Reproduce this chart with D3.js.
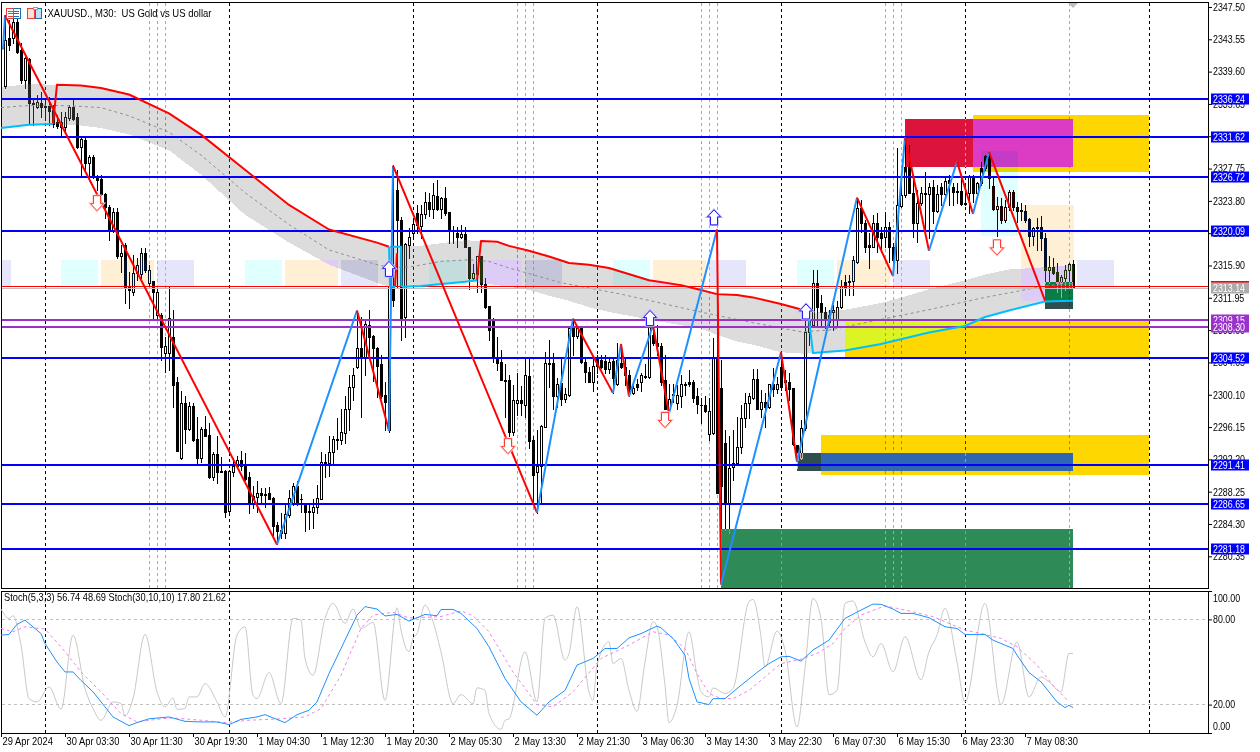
<!DOCTYPE html>
<html><head><meta charset="utf-8">
<script src="https://cdn.jsdelivr.net/npm/d3@7"></script>
<style>
html,body{margin:0;padding:0;background:#fff;width:1260px;height:752px;overflow:hidden}
canvas,svg{position:absolute;left:0;top:0}
text{font-family:"Liberation Sans",sans-serif;font-size:10.5px;fill:#000}
</style></head><body>
<canvas id="c" width="1260" height="752"></canvas>
<svg id="s" width="1260" height="752"></svg>
<script>
// ---------- candles: [open, high, low, close], one row per 30-minute bar ----------
const ohlc = [
[2337.8,2346.5,2337.6,2343.5],[2343.7,2345.9,2342.3,2342.9],[2343.7,2346.3,2343.1,2345.7],[2345.7,2346.2,2341.9,2342.0],
[2342.3,2343.1,2338.2,2338.6],[2338.6,2341.4,2337.6,2341.3],[2341.1,2341.3,2333.3,2335.8],[2335.6,2336.1,2333.1,2335.8],
[2335.3,2336.8,2335.2,2335.9],[2335.8,2337.1,2334.1,2335.3],[2335.3,2336.4,2333.7,2335.4],[2335.4,2336.5,2333.1,2334.8],
[2334.9,2335.5,2332.8,2333.2],[2333.5,2334.3,2332.7,2333.0],[2332.8,2334.7,2331.7,2333.5],[2332.8,2334.7,2332.4,2334.1],
[2333.9,2335.5,2333.7,2335.3],[2335.3,2336.1,2333.7,2333.8],[2334.1,2334.5,2330.3,2330.4],[2330.4,2331.6,2326.8,2331.4],
[2331.3,2331.6,2327.6,2328.4],[2328.4,2329.4,2327.0,2329.2],[2329.2,2329.4,2326.6,2326.7],[2326.7,2327.0,2325.1,2326.4],
[2326.5,2327.0,2324.5,2324.7],[2324.7,2324.8,2321.7,2323.0],[2323.0,2323.3,2319.0,2320.3],[2320.3,2322.9,2320.0,2322.4],
[2322.4,2322.9,2316.8,2317.0],[2317.0,2318.4,2315.1,2317.4],[2318.4,2318.7,2311.3,2313.3],[2313.3,2315.1,2310.7,2312.9],
[2312.7,2317.2,2312.3,2315.0],[2315.0,2316.8,2314.1,2316.0],[2314.8,2318.0,2314.4,2317.4],[2317.4,2318.0,2315.1,2315.4],
[2313.8,2316.0,2313.5,2315.4],[2314.0,2314.0,2309.5,2312.7],[2309.9,2313.2,2309.3,2312.7],[2309.9,2310.1,2304.4,2305.9],
[2305.2,2307.2,2302.9,2306.0],[2305.2,2313.3,2303.1,2309.5],[2307.2,2310.5,2298.6,2301.3],[2301.6,2302.3,2293.2,2293.2],
[2292.4,2300.5,2292.2,2299.1],[2299.1,2299.9,2294.2,2295.9],[2295.9,2299.2,2295.8,2298.7],[2298.7,2299.1,2294.5,2294.6],
[2294.7,2297.4,2291.7,2292.4],[2292.4,2296.2,2291.9,2295.9],[2295.9,2297.5,2295.1,2295.1],[2295.2,2296.7,2289.9,2290.0],
[2290.1,2293.1,2289.7,2292.9],[2292.9,2295.0,2289.3,2290.7],[2290.8,2292.5,2290.6,2290.7],[2290.8,2290.9,2285.1,2285.8],
[2285.9,2290.9,2285.8,2290.8],[2290.7,2292.4,2290.2,2291.4],[2291.4,2292.6,2291.3,2292.1],[2292.1,2293.2,2290.9,2291.4],
[2291.5,2293.0,2289.7,2289.8],[2290.1,2290.6,2285.7,2286.9],[2286.9,2288.9,2286.3,2287.7],[2287.6,2289.6,2285.8,2288.1],
[2288.1,2288.7,2286.9,2287.9],[2287.9,2288.7,2286.4,2288.0],[2288.1,2288.8,2287.3,2287.4],[2287.5,2287.6,2283.0,2284.1],
[2284.2,2284.6,2281.8,2283.4],[2283.2,2285.7,2282.6,2283.6],[2283.2,2286.6,2282.6,2285.5],[2285.4,2288.5,2285.2,2287.5],
[2286.9,2289.3,2286.6,2288.9],[2288.9,2289.5,2286.6,2286.9],[2287.3,2288.0,2285.8,2287.4],[2286.9,2286.9,2283.5,2285.8],
[2285.9,2286.9,2283.7,2285.8],[2285.8,2287.3,2283.8,2286.4],[2286.4,2289.1,2285.7,2287.5],[2287.4,2293.1,2287.3,2291.9],
[2291.9,2292.8,2290.1,2291.5],[2291.7,2295.0,2290.2,2293.1],[2293.1,2295.0,2291.5,2294.7],[2294.6,2297.2,2293.5,2294.7],
[2294.6,2298.3,2294.1,2295.6],[2295.4,2299.9,2294.2,2298.3],[2298.3,2302.5,2295.8,2301.1],[2301.1,2303.4,2299.5,2302.5],
[2303.5,2310.2,2303.4,2305.8],[2305.8,2309.6,2297.4,2304.6],[2304.6,2309.3,2302.5,2308.8],[2308.6,2310.5,2304.7,2307.2],
[2307.3,2307.4,2301.8,2305.8],[2305.8,2305.9,2299.8,2303.6],[2303.8,2305.0,2299.7,2300.0],[2300.1,2301.6,2295.8,2299.2],
[2295.8,2313.4,2295.6,2313.4],[2313.3,2328.2,2311.0,2311.7],[2325.1,2327.6,2313.3,2321.5],[2321.5,2321.8,2306.8,2309.5],
[2309.6,2318.7,2307.2,2318.5],[2318.4,2320.5,2316.8,2319.4],[2319.9,2321.7,2319.4,2321.0],[2322.3,2323.3,2319.9,2320.9],
[2320.7,2323.3,2319.3,2322.2],[2322.2,2324.9,2321.7,2323.7],[2323.7,2324.8,2321.9,2322.8],[2322.8,2326.0,2321.7,2324.5],
[2324.4,2326.4,2322.7,2322.8],[2322.8,2324.3,2321.7,2324.2],[2324.2,2325.5,2322.1,2322.3],[2322.5,2322.5,2318.7,2320.2],
[2320.1,2320.7,2318.7,2320.2],[2319.9,2320.6,2318.2,2319.4],[2319.4,2320.9,2319.3,2319.8],[2319.8,2320.6,2318.1,2318.2],
[2318.2,2318.2,2313.0,2314.4],[2314.4,2316.1,2314.2,2315.0],[2314.9,2317.0,2312.6,2317.0],[2317.0,2317.0,2312.6,2313.6],
[2313.6,2314.4,2310.7,2310.8],[2311.0,2311.0,2306.8,2308.0],[2309.3,2309.5,2304.1,2304.6],[2304.5,2307.2,2303.1,2304.0],
[2304.1,2305.6,2301.9,2301.9],[2301.9,2303.8,2297.4,2301.8],[2301.9,2302.5,2295.1,2295.6],[2295.6,2301.3,2295.2,2299.4],
[2299.1,2302.8,2297.6,2299.4],[2299.4,2301.2,2297.6,2299.1],[2298.9,2304.6,2297.4,2302.5],[2302.4,2304.6,2293.6,2294.5],
[2294.6,2295.0,2286.9,2290.3],[2290.6,2295.8,2285.7,2291.4],[2291.4,2296.4,2286.9,2296.3],[2296.2,2305.3,2296.1,2304.0],
[2304.0,2306.8,2301.1,2303.8],[2304.0,2305.2,2298.3,2299.9],[2299.9,2302.2,2298.6,2301.4],[2301.5,2304.6,2298.9,2299.6],
[2299.6,2300.9,2299.2,2300.2],[2300.1,2308.4,2299.9,2308.2],[2308.2,2309.4,2305.0,2307.3],[2307.3,2308.4,2307.0,2308.2],
[2308.2,2308.3,2304.0,2304.1],[2304.1,2304.6,2301.6,2302.9],[2302.9,2303.5,2301.6,2301.6],[2301.6,2304.6,2300.6,2303.6],
[2304.6,2305.0,2302.8,2303.6],[2304.4,2305.0,2303.4,2303.5],[2304.2,2305.0,2302.8,2303.3],[2303.3,2304.7,2302.8,2304.1],
[2304.2,2304.7,2300.3,2302.2],[2301.4,2306.4,2301.3,2304.4],[2304.0,2306.2,2303.4,2303.5],[2303.5,2304.7,2301.3,2302.5],
[2302.5,2303.1,2299.9,2300.7],[2300.3,2301.7,2300.2,2300.9],[2301.4,2302.0,2300.7,2301.0],[2301.6,2302.8,2300.5,2302.5],
[2302.3,2303.8,2302.2,2302.4],[2302.3,2308.6,2302.2,2308.6],[2307.4,2308.6,2306.2,2306.4],[2306.4,2308.6,2305.0,2306.1],
[2306.1,2306.4,2301.3,2301.6],[2301.9,2305.0,2298.3,2298.4],[2298.4,2301.4,2298.3,2299.6],[2300.2,2301.4,2299.2,2300.1],
[2299.1,2301.3,2298.3,2300.1],[2300.0,2302.5,2298.6,2301.4],[2301.3,2301.7,2300.1,2301.4],[2301.6,2303.1,2301.2,2301.4],
[2301.6,2301.9,2299.2,2299.7],[2299.9,2300.9,2297.9,2299.0],[2298.9,2299.7,2296.7,2298.8],[2298.8,2299.9,2298.0,2298.1],
[2295.3,2299.7,2294.6,2298.1],[2295.4,2307.0,2295.3,2304.6],[2304.6,2320.2,2288.1,2288.1],[2300.9,2304.4,2276.9,2288.9],
[2294.2,2295.8,2283.6,2286.9],[2286.9,2295.0,2283.2,2291.2],[2291.3,2295.8,2289.7,2291.8],[2291.8,2297.4,2291.8,2293.7],
[2293.7,2298.9,2293.0,2297.3],[2297.3,2300.3,2296.2,2299.1],[2299.1,2300.3,2297.3,2299.9],[2299.7,2303.2,2299.6,2302.0],
[2302.0,2303.2,2298.3,2298.4],[2298.4,2300.7,2297.4,2299.2],[2299.2,2300.3,2296.1,2298.6],[2298.6,2301.4,2298.5,2301.4],
[2301.4,2303.4,2299.9,2300.8],[2300.8,2302.3,2300.3,2301.4],[2303.5,2305.3,2300.7,2301.0],[2301.6,2303.1,2300.7,2301.9],
[2301.7,2302.8,2299.5,2300.8],[2300.9,2300.9,2294.0,2294.1],[2294.0,2294.0,2291.2,2292.1],[2292.4,2297.0,2292.3,2296.0],
[2296.0,2310.5,2295.8,2307.8],[2307.8,2310.5,2306.2,2309.3],[2308.6,2315.4,2308.6,2313.8],[2313.8,2315.4,2308.6,2310.8],
[2311.3,2312.3,2308.6,2310.2],[2310.2,2310.8,2308.3,2309.3],[2309.9,2310.5,2308.4,2309.0],[2310.2,2311.1,2308.0,2310.5],
[2309.3,2311.5,2308.4,2310.8],[2310.8,2314.1,2310.7,2313.4],[2313.9,2314.7,2312.3,2313.3],[2313.9,2314.7,2312.3,2314.0],
[2314.0,2317.0,2312.3,2316.6],[2316.3,2323.9,2316.2,2322.9],[2322.9,2323.9,2320.0,2321.1],[2321.1,2321.5,2317.6,2318.2],
[2318.4,2319.9,2315.6,2318.2],[2318.2,2322.1,2318.2,2321.1],[2321.1,2322.3,2317.6,2319.4],[2319.9,2320.6,2317.6,2319.3],
[2319.4,2322.5,2318.1,2320.6],[2320.6,2321.2,2316.3,2318.2],[2318.2,2318.7,2315.4,2316.6],[2316.6,2330.3,2315.0,2323.3],
[2323.2,2326.0,2323.1,2324.5],[2324.5,2331.6,2324.3,2327.9],[2327.9,2330.6,2324.8,2324.8],[2324.8,2326.7,2319.4,2321.1],
[2321.1,2325.1,2318.8,2323.6],[2323.6,2325.5,2323.3,2324.8],[2324.8,2327.3,2320.3,2324.7],[2324.7,2326.0,2319.3,2325.5],
[2325.5,2326.4,2321.1,2322.6],[2322.6,2325.8,2322.5,2324.7],[2325.5,2326.0,2323.3,2324.7],[2324.7,2326.6,2324.4,2326.2],
[2326.4,2327.0,2323.3,2326.0],[2325.5,2326.0,2323.3,2324.9],[2325.0,2326.0,2323.5,2324.9],[2325.0,2326.7,2323.3,2323.4],
[2323.5,2326.0,2323.3,2323.4],[2324.8,2327.0,2322.3,2326.9],[2326.9,2327.0,2323.7,2324.8],[2324.8,2326.1,2324.6,2326.0],
[2326.0,2328.6,2325.8,2327.8],[2327.8,2329.4,2327.6,2329.3],[2329.3,2329.8,2325.4,2326.6],[2325.6,2326.6,2322.7,2322.8],
[2322.8,2324.3,2319.5,2323.2],[2323.2,2324.2,2321.1,2321.5],[2321.5,2323.9,2321.2,2323.0],[2323.0,2325.1,2322.7,2324.9],
[2324.9,2325.1,2322.7,2323.0],[2323.1,2323.7,2321.2,2322.6],[2322.7,2323.6,2321.5,2322.6],[2322.6,2323.3,2321.2,2321.5],
[2321.6,2321.7,2318.3,2319.5],[2319.5,2320.6,2318.4,2320.5],[2320.6,2321.7,2317.8,2320.5],[2320.6,2322.0,2317.8,2319.3],
[2319.3,2319.9,2313.8,2315.4],[2315.4,2317.1,2313.8,2315.7],[2315.7,2316.8,2314.8,2315.0],[2315.1,2316.2,2312.7,2313.8],
[2313.8,2314.7,2312.1,2314.5],[2314.4,2316.0,2312.9,2315.4],[2315.4,2316.2,2313.2,2316.1],[2316.1,2316.6,2313.1,2313.2]
];
// ---------- zigzag ----------
const zigIdx = [-0.5,0,68,88,96,97,133,142,152,154,156,162,166,178,179,194,198,213,222,225,231,238,242,246,260];
const zigPrice = [2342.3,2346.5,2281.8,2310.4,2295.7,2328.1,2285.7,2309.4,2300.3,2306.3,2299.9,2308.6,2297.8,2320.3,2276.9,2305.3,2291.9,2324.2,2314.6,2331.6,2317.7,2328.6,2322.2,2329.8,2311.6];
// ---------- moving-average envelope ----------
const bandIdx = [-1,6,12,19,24,31,41,49,60,71,81,93,96,104,115,119,126,131,136,141,146,151,161,169,174,178,183,187,194,200,202,210,219,225,231,240,245,251,260,267];
const bandTop = [2337.7,2338.1,2338.0,2337.9,2337.6,2336.8,2334.5,2331.9,2327.6,2323.3,2320.3,2318.7,2318.2,2318.3,2319.0,2318.9,2318.3,2317.7,2317.0,2316.2,2316.0,2315.6,2314.1,2313.5,2312.9,2312.4,2312.3,2312.0,2311.2,2310.4,2310.1,2310.5,2311.3,2312.1,2313.0,2314.1,2314.8,2315.4,2315.7,2316.0];
const bandBot = [2332.7,2333.1,2333.2,2333.0,2332.7,2331.9,2330.0,2327.0,2322.1,2318.7,2316.0,2313.8,2313.3,2313.4,2313.9,2313.8,2313.3,2312.9,2312.2,2311.6,2310.8,2310.2,2309.3,2308.6,2308.2,2307.4,2306.6,2306.2,2305.3,2305.1,2305.2,2305.5,2306.3,2307.0,2307.7,2308.5,2309.6,2310.4,2311.5,2311.6];
const midIdx = [-1,4,10,17,24,31,41,49,60,71,81,93,96,101,109,116,121,126,139,154,174,186,199,206,219,231,244,260,267];
const midPrice = [2335.2,2335.4,2335.5,2335.4,2335.2,2334.2,2332.2,2329.4,2324.8,2320.9,2317.8,2316.0,2315.7,2315.7,2316.4,2316.6,2316.4,2315.6,2313.8,2312.4,2310.2,2309.0,2307.8,2308.0,2309.3,2310.5,2311.9,2313.4,2313.7];
const redIdxA = [12,13,19,24,31,41,49,60,71,81,93,96];
const redPriceA = [2333.2,2338.0,2337.9,2337.6,2336.8,2334.5,2331.9,2327.6,2323.3,2320.3,2318.7,2318.2];
const redIdxB = [97.5,98];
const redPriceB = [2313.3,2317.4];
const redIdxC = [118,119,123,126,131,136,141,146,151,161,169,174,178,183,187,194,200];
const redPriceC = [2314.1,2318.9,2318.8,2318.3,2317.7,2317.0,2316.2,2316.0,2315.6,2314.1,2313.5,2312.9,2312.4,2312.3,2312.0,2311.2,2310.4];
const cyanIdxA = [-1,6,12];
const cyanPriceA = [2332.7,2333.1,2333.2];
const cyanIdxB = [96,96.25,97.5];
const cyanPriceB = [2318.2,2313.3,2313.3];
const cyanIdxC = [96.3,99,99.1,99.5,104,115,118];
const cyanPriceC = [2318.2,2318.2,2313.4,2313.3,2313.4,2313.9,2314.1];
const cyanIdxD = [200,201,202,210,219,225,231,240,245,251,260,267];
const cyanPriceD = [2310.4,2309.3,2305.2,2305.5,2306.3,2307.0,2307.7,2308.5,2309.6,2310.4,2311.5,2311.6];
// ---------- horizontal levels ----------
const blueLevels = [2336.24,2331.62,2326.72,2320.09,2304.52,2291.41,2286.65,2281.18];
const purpleLevels = [2309.15,2308.30];
const askPrice = 2313.35, bidPrice = 2313.14;
// ---------- price-action zones ----------
const zoneStart = [242,225,244,210,204,198,179,260,254];
const zoneEnd = [286,267,253.25,286,286,267,267,267,267.25];
const zoneHigh = [2334.3,2333.8,2329.9,2309.25,2295.2,2293.0,2283.7,2313.9,2323.3];
const zoneLow = [2327.3,2328.0,2319.5,2304.55,2290.3,2290.8,2276.5,2310.6,2311.6];
const zoneColor = ["#FFD700","#DC143C","#E0FFFF","#FFD700","#FFD700","#2F4F4F","#2E8B57","#2F4F4F","#FFEFD5"];
// ---------- session boxes ----------
const sessionHigh = 2316.6, sessionLow = 2313.3;
const cyanStart = [14,60,106,152,198];
const peachStart = [24,70,116,162,208];
const lavenderStart = [-7.75,38,84,130,176,222,268];
// ---------- arrows ----------
const upArrowIdx = [96,161.25,177.25,200.25];
const upArrowPrice = [2316.4,2310.4,2322.7,2311.2];
const downArrowIdx = [23,125.75,165,248];
const downArrowPrice = [2322.6,2292.9,2296.1,2317.2];
// ---------- vertical separators ----------
const blackVLines = [10,56,102,148,194,240,286];
const grayVLines = [36,38,40,128,130,132,174,176,178,220,222,224,266];
// ---------- axes ----------
const priceTicks = [2347.50,2343.55,2339.60,2335.65,2331.70,2327.75,2323.80,2319.85,2315.90,2311.95,2308.00,2304.05,2300.10,2296.15,2292.20,2288.25,2284.30,2280.35];
const timeTickIdx = [-1,15,31,47,63,79,95,111,127,143,159,175,191,207,223,239,255];
const timeLabels = ["29 Apr 2024","30 Apr 03:30","30 Apr 11:30","30 Apr 19:30","1 May 04:30","1 May 12:30","1 May 20:30","2 May 05:30","2 May 13:30","2 May 21:30","3 May 06:30","3 May 14:30","3 May 22:30","6 May 07:30","6 May 15:30","6 May 23:30","7 May 08:30"];
const stochTicks = [100,80,20,0];
// ---------- stochastic oscillators ----------
const slowIdx = [-1,1,3,5,9,10,13,15,17,19,22,25,27,31,33,36,41,45,49,53,56,59,63,65,70,73,76,78,81,84,88,90,93,95,98,101,105,108,109,112,114,118,121,125,129,133,136,140,143,147,150,153,156,159,163,164,167,170,171,173,176,177,180,184,188,191,194,196,199,202,206,210,214,217,219,222,224,227,231,235,238,240,245,247,252,253,256,259,263,265,266,267];
const slowMain = [68.9,69.4,76.5,79.5,70,63,50,43,43,37,29,18.4,11.3,5.2,7.3,10,11.3,8.2,7.8,7.8,5.9,9.6,11.3,12.9,7.3,12.9,16,21.9,41.9,59.5,83,89,87.3,82.4,83.5,78.8,83.5,82.6,87,87,84.2,73.6,60.7,38.4,21.9,12.5,21.9,30,47.8,52.5,59.5,59.5,67,70,75.3,74,66.6,54.8,38.4,21.9,20,24.2,24.2,33.6,42.6,48.9,53.6,54,50.6,58.4,65.4,80.7,86.6,90.8,90.6,87.3,84.2,84.2,81.2,74.8,73.6,69.4,69.4,65.4,59.5,54.8,42.6,36,21.9,17.9,19.5,17.9];
const signalIdx = [-1,2,5,10,14,19,24,29,33,39,42,49,55,61,69,75,79,84,89,92,97,101,109,114,117,121,127,133,137,142,149,156,159,162,166,170,173,176,179,182,186,190,194,199,203,207,210,214,220,226,232,236,240,245,249,253,258,262,266];
const slowSignal = [73.6,71.3,74.8,73.2,60.7,43,29,13.6,7.8,10,10.6,9,7.3,9,10,11.3,17.2,40.7,73.6,83,85,81,82,86,82.6,71.3,43,20,18.4,29,52.5,61.9,66.6,71.3,69,59.5,41.9,27.8,24.2,24.2,30,39.5,48.9,52,56,63,73.6,83,89.6,86,81.9,77.2,72.5,69.4,66.6,60.7,47.8,33.6,21.9];
const fastIdx = [-1,1,2,4,6,8,11,14,17,20,22,24,27,29,30,32,35,38,40,42,43,45,46,48,50,53,55,58,60,62,63,66,69,72,74,75,77,80,82,85,87,89,92,95,98,99,101,102,103,105,107,109,112,114,117,118,120,121,124,125,126,130,133,135,137,140,141,143,146,147,148,151,152,154,156,158,160,162,163,165,166,168,171,173,174,176,177,180,182,186,187,189,190,193,195,198,200,202,204,206,208,210,212,215,217,219,222,225,229,231,233,235,238,240,245,249,253,256,259,261,264,266,267];
const fastMain = [87.3,80.7,82.6,61.9,24.2,21.9,32.5,16.7,68.9,31.3,17.2,8.9,21.9,20.7,12,24.2,69.4,29,18.4,24.7,16.7,17.2,25.4,25.4,34.8,21.9,11.3,68.9,74.8,26.6,24.2,42.6,20.7,80.7,79.5,52.5,40.7,80.7,91.3,77.2,87.3,73.6,77.9,23,88.2,72.5,57.2,66.6,70,90.1,78.4,57.2,20.7,27,20.7,31.8,30,13.6,2.6,8.9,10,57.2,21.9,80.7,83,51.3,56,89,29,23,47.8,64.2,49,52.5,30,15.3,50,78.4,74.8,33.6,7.3,19.5,71.3,40.7,29,25.4,31.8,27.8,31.3,92.5,94,67.8,46.6,71.8,58.4,4.2,45.4,94.8,80.7,27,30,91.3,93,64.2,53.6,63,43,67.8,37.6,57.2,69,87.8,50,21.9,91.3,20,64.2,25.4,39.5,36,29,56,56];

// ---------- scales ----------
const X = d3.scaleLinear().domain([0,267]).range([5,1073]);
const Y = d3.scaleLinear().domain([2347.5,2280.35]).range([7,556.3]);
const S = d3.scaleLinear().domain([100,0]).range([591,733]);
const PLOT = {x:2,y:3,w:1206,h:585};
const snapY = v => Math.round(Y(v)-0.4);

// ---------- canvas layer: gridlines, candles, XOR-filled zones ----------
const ctx = document.getElementById("c").getContext("2d",{willReadFrequently:true});
ctx.fillStyle="#fff"; ctx.fillRect(0,0,1260,752);
function vdash(i,color,y0,y1){
  const x=Math.round(X(i));
  ctx.fillStyle=color;
  for(let y=y0;y<y1;y+=6) ctx.fillRect(x,y,1,Math.min(3,y1-y));
}
grayVLines.forEach(i=>vdash(i,"#a9a9a9",3,588));
blackVLines.forEach(i=>vdash(i,"#000",3,588));
blackVLines.forEach(i=>vdash(i,"#000",592,733));
ohlc.forEach((d,i)=>{
  const [o,h,l,c]=d, x=Math.round(X(i));
  const yh=Math.round(Y(h)), yl=Math.round(Y(l)), yt=Math.round(Y(Math.max(o,c))), yb=Math.round(Y(Math.min(o,c)));
  ctx.fillStyle="#000";
  ctx.fillRect(x,yh,1,yl-yh+1);
  ctx.fillRect(x-1,yt,3,yb-yt+1);
  if(c>=o && yb-yt>=2){ ctx.fillStyle="#fff"; ctx.fillRect(x,yt+1,1,yb-yt-1); }
});
function xorFill(color,shape){
  const off=document.createElement("canvas"); off.width=1260; off.height=752;
  const o=off.getContext("2d",{willReadFrequently:true});
  o.beginPath(); o.rect(PLOT.x,PLOT.y,PLOT.w,PLOT.h); o.clip();
  o.fillStyle="#000"; shape(o);
  const m=o.getImageData(0,0,1260,752).data;
  const img=ctx.getImageData(0,0,1260,752), p=img.data;
  const c=d3.rgb(color), r=255^c.r, g=255^c.g, b=255^c.b;
  for(let k=0;k<p.length;k+=4){ if(m[k+3]>127){ p[k]^=r; p[k+1]^=g; p[k+2]^=b; } }
  ctx.putImageData(img,0,0);
}
function xorBox(i0,i1,hi,lo,color){
  xorFill(color,o=>{
    const x0=Math.round(X(i0)),x1=Math.round(X(i1)),y0=Math.round(Y(hi)),y1=Math.round(Y(lo));
    o.fillRect(x0,y0,x1-x0,y1-y0);
  });
}
cyanStart.forEach(i=>xorBox(i,i+9.25,sessionHigh,sessionLow,"#E0FFFF"));
peachStart.forEach(i=>xorBox(i,i+13.25,sessionHigh,sessionLow,"#FFEFD5"));
lavenderStart.forEach(i=>xorBox(i,i+9.25,sessionHigh,sessionLow,"#E6E6FA"));
zoneStart.forEach((s,k)=>xorBox(s,zoneEnd[k],zoneHigh[k],zoneLow[k],zoneColor[k]));
xorFill("#DCDCDC",o=>{
  const area=d3.area().x(d=>X(d[0])).y0(d=>Y(d[1])).y1(d=>Y(d[2])).context(o);
  o.beginPath(); area(d3.zip(bandIdx,bandTop,bandBot)); o.fill();
});
// candles stay black on top of the two upper supply zones
ctx.save();
ctx.beginPath();
ctx.rect(X(225),Y(zoneHigh[0]),X(267)-X(225),Y(zoneLow[0])-Y(zoneHigh[0]));
ctx.clip();
ohlc.forEach((d,i)=>{
  const [o,h,l,c]=d, x=Math.round(X(i));
  const yh=Math.round(Y(h)), yl=Math.round(Y(l)), yt=Math.round(Y(Math.max(o,c))), yb=Math.round(Y(Math.min(o,c)));
  ctx.fillStyle="#000";
  ctx.fillRect(x,yh,1,yl-yh+1);
  ctx.fillRect(x-1,yt,3,yb-yt+1);
});
ctx.restore();

// ---------- svg layer ----------
const svg=d3.select("#s");
const line=d3.line().x(d=>X(d[0])).y(d=>Y(d[1]));
const sline=d3.line().x(d=>X(d[0])).y(d=>S(d[1]));
const sSmooth=d3.line().x(d=>X(d[0])).y(d=>S(d[1])).curve(d3.curveMonotoneX);
function path(pts,gen,color,w,dash){
  svg.append("path").attr("d",gen(pts)).attr("fill","none").attr("stroke",color)
    .attr("stroke-width",w).attr("stroke-dasharray",dash||null).attr("stroke-linejoin","round");
}
// squeeze text horizontally to the reference's narrow face
function squeeze(sel,f){
  sel.each(function(){
    const len=this.getComputedTextLength();
    this.setAttribute("textLength",(len*f).toFixed(1));
    this.setAttribute("lengthAdjust","spacingAndGlyphs");
  });
}
const probe=svg.append("text").text("2323.80");
const PRICE_F=32/probe.node().getComputedTextLength();
probe.text("30 Apr 03:30");
const TIME_F=53/probe.node().getComputedTextLength();
probe.remove();
// frames
const fr=svg.append("g").attr("fill","none").attr("stroke","#000").attr("shape-rendering","crispEdges");
fr.append("rect").attr("x",1.5).attr("y",2.5).attr("width",1206.5).attr("height",586);
fr.append("rect").attr("x",1.5).attr("y",591.5).attr("width",1206.5).attr("height",141.5);
// envelope mid, levels
path(d3.zip(midIdx,midPrice),line,"#8f8f8f",1,"3,3");
const lev=svg.append("g");
lev.selectAll("rect.b").data(blueLevels).join("rect").attr("x",2).attr("width",1206).attr("y",d=>snapY(d)-1).attr("height",2).attr("fill","#0000FF");
lev.selectAll("rect.p").data(purpleLevels).join("rect").attr("x",2).attr("width",1206).attr("y",d=>snapY(d)-1).attr("height",2).attr("fill","#9932CC");
lev.append("rect").attr("x",2).attr("width",1206).attr("y",Math.floor(Y(askPrice))).attr("height",1).attr("fill","#FF0000");
lev.append("rect").attr("x",2).attr("width",1206).attr("y",Math.round(Y(bidPrice))).attr("height",1).attr("fill","#BEBEBE");
// MA lines
[[redIdxA,redPriceA],[redIdxB,redPriceB],[redIdxC,redPriceC]].forEach(a=>path(d3.zip(a[0],a[1]),line,"#FF0000",2));
[[cyanIdxA,cyanPriceA],[cyanIdxB,cyanPriceB],[cyanIdxC,cyanPriceC],[cyanIdxD,cyanPriceD]].forEach(a=>path(d3.zip(a[0],a[1]),line,"#00BFFF",2));
// zigzag
const zig=d3.zip(zigIdx,zigPrice);
d3.pairs(zig).forEach(([a,b])=>path([a,b],line,b[1]>a[1]?"#1E90FF":"#FF0000",2));
// arrows
function arrow(x,tip,dir){
  const p=d3.path(), h=15, hw=6.5, sw=3.5, hh=7, d=dir;
  p.moveTo(x,tip); p.lineTo(x+hw,tip+d*hh); p.lineTo(x+sw,tip+d*hh); p.lineTo(x+sw,tip+d*h);
  p.lineTo(x-sw,tip+d*h); p.lineTo(x-sw,tip+d*hh); p.lineTo(x-hw,tip+d*hh); p.closePath();
  return p.toString();
}
upArrowIdx.forEach((i,k)=>{
  const d=arrow(X(i),Y(upArrowPrice[k]),1);
  svg.append("path").attr("d",d).attr("fill","#fff").attr("stroke","#b9b9ff").attr("stroke-width",2.4);
  svg.append("path").attr("d",d).attr("fill","#fff").attr("stroke","#2a1aff").attr("stroke-width",1);
});
downArrowIdx.forEach((i,k)=>{
  const d=arrow(X(i),Y(downArrowPrice[k]),-1);
  svg.append("path").attr("d",d).attr("fill","#fff").attr("stroke","#ffc9c0").attr("stroke-width",2.4);
  svg.append("path").attr("d",d).attr("fill","#fff").attr("stroke","#ff3a30").attr("stroke-width",1);
});
// chart-shift marker
svg.append("path").attr("d","M1068,3L1078,3L1073,8Z").attr("fill","#bdbdbd");

// price axis
const ax=svg.append("g").attr("transform","translate(1208,0)")
  .call(d3.axisRight(Y).tickValues(priceTicks).tickFormat(d3.format(".2f")).tickSize(4).tickPadding(1));
ax.attr("font-size",null).attr("font-family",null);
ax.select(".domain").attr("stroke","#000").attr("d","M0.5,2V589");
ax.selectAll(".tick line").attr("stroke","#000");
ax.selectAll("text").attr("fill","#000");
squeeze(ax.selectAll("text"),PRICE_F);
// level labels
function tag(v,bg,fg,yy){
  const y=yy;
  const g=svg.append("g");
  g.append("rect").attr("x",1211).attr("y",y-5.5).attr("width",38).attr("height",11).attr("fill",bg);
  const t=g.append("text").attr("x",1213).attr("y",y+4).text(v.toFixed(2)).style("fill",fg);
  squeeze(t,PRICE_F);
}
blueLevels.forEach(v=>tag(v,"#0000FF","#fff",snapY(v)));
purpleLevels.forEach(v=>tag(v,"#9932CC","#fff",snapY(v)));
svg.append("rect").attr("x",1211).attr("y",281).attr("width",38).attr("height",3).attr("fill","#FF0000");
tag(bidPrice,"#ABABAB","#fff",Math.round(Y(bidPrice)));

// stochastic
[80,20].forEach(v=>svg.append("line").attr("x1",2).attr("x2",1208).attr("y1",Math.floor(S(v))+.5).attr("y2",Math.floor(S(v))+.5)
  .attr("stroke","#c0c0c0").attr("stroke-dasharray","3,3"));
path(d3.zip(fastIdx,fastMain),sSmooth,"#C8C8C8",1);
path(d3.zip(signalIdx,slowSignal),sline,"#EE82EE",1,"3,3");
path(d3.zip(slowIdx,slowMain),sline,"#1E90FF",1);
const ay=svg.append("g").attr("transform","translate(1208,0)")
  .call(d3.axisRight(S).tickValues(stochTicks).tickFormat(d3.format(".2f")).tickSize(4).tickPadding(1));
ay.attr("font-size",null).attr("font-family",null);
ay.select(".domain").attr("stroke","#000").attr("d","M0.5,591V733");
ay.selectAll(".tick line").attr("stroke","#000");
ay.selectAll("text").attr("fill","#000").attr("dy",d=>d===100?"1em":d===0?"-0.3em":"0.32em");
squeeze(ay.selectAll("text"),PRICE_F);

// time axis
const ax2=svg.append("g").attr("transform","translate(0,733)")
  .call(d3.axisBottom(X).tickValues(timeTickIdx).tickFormat((d,i)=>timeLabels[i]).tickSize(4).tickSizeOuter(0));
ax2.attr("font-size",null).attr("font-family",null);
ax2.select(".domain").remove();
ax2.selectAll(".tick line").attr("stroke","#000");
ax2.selectAll("text").attr("text-anchor","start").attr("x",1).attr("y",4).attr("dy","8px").attr("fill","#000");
squeeze(ax2.selectAll("text"),TIME_F);

// title, stochastic caption
svg.append("text").attr("x",47.5).attr("y",17).attr("xml:space","preserve").style("white-space","pre").attr("textLength",164).attr("lengthAdjust","spacingAndGlyphs").text("XAUUSD., M30:  US Gold vs US dollar");
svg.append("text").attr("x",4).attr("y",601).attr("textLength",222).attr("lengthAdjust","spacingAndGlyphs").text("Stoch(5,3,3) 56.74 48.69 Stoch(30,10,10) 17.80 21.62");
// toolbar glyphs
const ic=svg.append("g").attr("shape-rendering","crispEdges");
ic.append("rect").attr("x",6.5).attr("y",8.5).attr("width",14).attr("height",10).attr("fill","#fff").attr("stroke","#1f6fb0");
ic.append("rect").attr("x",6.5).attr("y",8.5).attr("width",7).attr("height",10).attr("fill","#fff").attr("stroke","#e8413c");
[11,13.5,16].forEach(y=>{
  ic.append("line").attr("x1",8).attr("x2",13).attr("y1",y).attr("y2",y).attr("stroke","#e8413c");
  ic.append("line").attr("x1",14).attr("x2",19).attr("y1",y).attr("y2",y).attr("stroke","#1f6fb0");
});
ic.append("rect").attr("x",27.5).attr("y",8.5).attr("width",7).attr("height",10).attr("fill","#fde0dc").attr("stroke","#e8413c");
ic.append("rect").attr("x",35.5).attr("y",8.5).attr("width",6).attr("height",10).attr("fill","#bfe0f5").attr("stroke","#1f6fb0");
ic.append("rect").attr("x",33.5).attr("y",7.5).attr("width",4).attr("height",2).attr("fill","#fff").attr("stroke","#999");

if(ohlc.length!==268||bandIdx.length!==bandTop.length||bandIdx.length!==bandBot.length||slowIdx.length!==slowMain.length||signalIdx.length!==slowSignal.length||fastIdx.length!==fastMain.length){
  throw new Error("length "+[ohlc.length,slowIdx.length,slowMain.length,signalIdx.length,slowSignal.length,fastIdx.length,fastMain.length].join());
}
</script>
</body></html>
